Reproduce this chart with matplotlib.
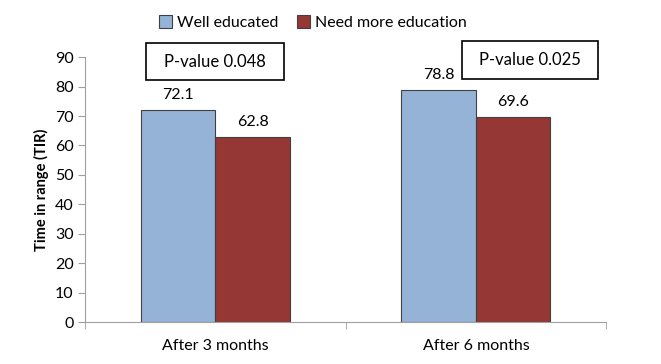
import matplotlib
matplotlib.use('Agg')
import matplotlib.pyplot as plt
from matplotlib.patches import Rectangle
import numpy as np

plt.rcParams['font.family'] = ['Lato', 'DejaVu Sans']

categories = ['After 3 months', 'After 6 months']
well_educated = [72.1, 78.8]
need_more = [62.8, 69.6]
p_values = ['P-value 0.048', 'P-value 0.025']

fig = plt.figure(figsize=(6.61, 3.64), dpi=100)
ax = fig.add_axes([0.129, 0.115, 0.788, 0.728])

x = np.arange(len(categories))
w = 0.286
b1 = ax.bar(x - w / 2, well_educated, w, color='#95B3D7', edgecolor='#404040', linewidth=0.8,
            label='Well educated')
b2 = ax.bar(x + w / 2, need_more, w, color='#953735', edgecolor='#404040', linewidth=0.8,
            label='Need more education')

for bars, vals in [(b1, well_educated), (b2, need_more)]:
    for r, v in zip(bars, vals):
        ax.annotate(f'{v}', (r.get_x() + r.get_width() / 2, v), xytext=(0, 6),
                    textcoords='offset points', ha='center', va='bottom', fontsize=11.5)

# p-value boxes
box_pos = [(-0.266, 82.2, 0.53, 12.6), (0.947, 82.5, 0.522, 12.9)]
for (bx, by, bw, bh), txt in zip(box_pos, p_values):
    ax.add_patch(Rectangle((bx, by), bw, bh, fill=False, edgecolor='black', linewidth=1.2,
                           clip_on=False))
    ax.text(bx + bw / 2, by + bh / 2, txt, ha='center', va='center', fontsize=12)

ax.set_xlim(-0.5, 1.5)
ax.set_ylim(0, 90)
ax.set_yticks(range(0, 91, 10))
ax.set_xticks(x)
ax.set_xticklabels(categories, fontsize=11.5)
ax.set_xticks([-0.5, 0.5, 1.5], minor=True)
ax.tick_params(axis='x', which='major', length=0, pad=12)
ax.tick_params(axis='x', which='minor', length=5, color='#a0a0a0')
ax.tick_params(axis='y', length=5, color='#a0a0a0', labelsize=11.5)

for s in ['top', 'right']:
    ax.spines[s].set_visible(False)
for s in ['left', 'bottom']:
    ax.spines[s].set_color('#a0a0a0')

ax.set_ylabel('Time in range (TIR)', fontsize=10.5, fontweight='bold', labelpad=4)

ax.legend(loc='center', bbox_to_anchor=(0.437, 1.13), ncol=2, frameon=False, fontsize=11.5,
          handlelength=0.8, handleheight=0.8, handletextpad=0.3, columnspacing=1.2)

fig.savefig('out.png', dpi=100)
